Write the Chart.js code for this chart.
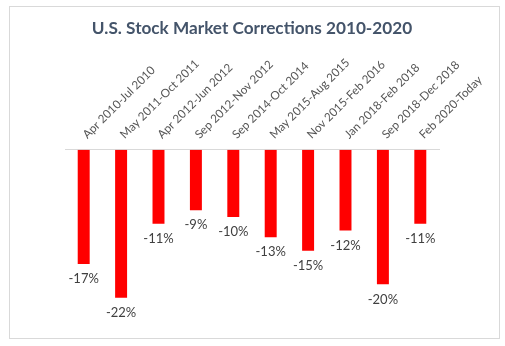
<!DOCTYPE html>
<html>
<head>
<meta charset="utf-8">
<script src="https://cdn.jsdelivr.net/npm/chart.js@4"></script>
<style>
  html, body { margin: 0; padding: 0; background: #fff; }
  #wrap { position: relative; width: 505px; height: 346px; }
  #frame { position: absolute; left: 9px; top: 6px; width: 489px; height: 331px; border: 1px solid #d9d9d9; }
  #chart { position: absolute; left: 0; top: 0; }
</style>
</head>
<body>
<div id="wrap">
  <div id="frame"></div>
  <canvas id="chart" width="505" height="346"></canvas>
</div>
<script>
const periods = ['Apr 2010-Jul 2010', 'May 2011-Oct 2011', 'Apr 2012-Jun 2012', 'Sep 2012-Nov 2012',
    'Sep 2014-Oct 2014', 'May 2015-Aug 2015', 'Nov 2015-Feb 2016', 'Jan 2018-Feb 2018',
    'Sep 2018-Dec 2018', 'Feb 2020-Today'];
const declines = [-17, -22, -11, -9, -10, -13, -15, -12, -20, -11];

// labels under each bar
const barLabels = {
    id: 'barLabels',
    afterDatasetsDraw(chart) {
        const ctx = chart.ctx;
        const meta = chart.getDatasetMeta(0);
        ctx.save();
        ctx.font = '13px Lato';
        ctx.fillStyle = '#404040';
        ctx.textAlign = 'center';
        ctx.textBaseline = 'middle';
        meta.data.forEach((bar, i) => {
            ctx.fillText(declines[i] + '%', bar.x, bar.y + 15);
        });
        ctx.restore();
    }
};

const ctx = document.getElementById('chart').getContext('2d');
new Chart(ctx, {
    type: 'bar',
    data: {
        labels: periods,
        datasets: [{
            data: declines,
            backgroundColor: '#ff0000',
            barPercentage: 0.32,
            categoryPercentage: 1
        }]
    },
    options: {
        responsive: false,
        animation: false,
        layout: { padding: { left: 65, right: 66, top: 8, bottom: 28 } },
        plugins: {
            legend: { display: false },
            tooltip: { enabled: false },
            title: {
                display: true,
                text: 'U.S. Stock Market Corrections 2010-2020',
                color: '#44546a',
                font: { family: 'Lato', size: 17.2, weight: 'bold' },
                padding: { top: 10, bottom: 0 }
            }
        },
        scales: {
            x: {
                position: 'top',
                grid: { display: false, drawTicks: false },
                border: { display: true, color: '#d9d9d9' },
                ticks: {
                    color: '#555555',
                    font: { family: 'Lato', size: 11.7 },
                    maxRotation: 45,
                    minRotation: 45,
                    autoSkip: false,
                    padding: 8,
                    labelOffset: 11
                },
                afterFit(scale) { scale.height = 111; }
            },
            y: {
                display: false,
                min: -25,
                max: 0
            }
        }
    },
    plugins: [barLabels]
});
</script>
</body>
</html>
